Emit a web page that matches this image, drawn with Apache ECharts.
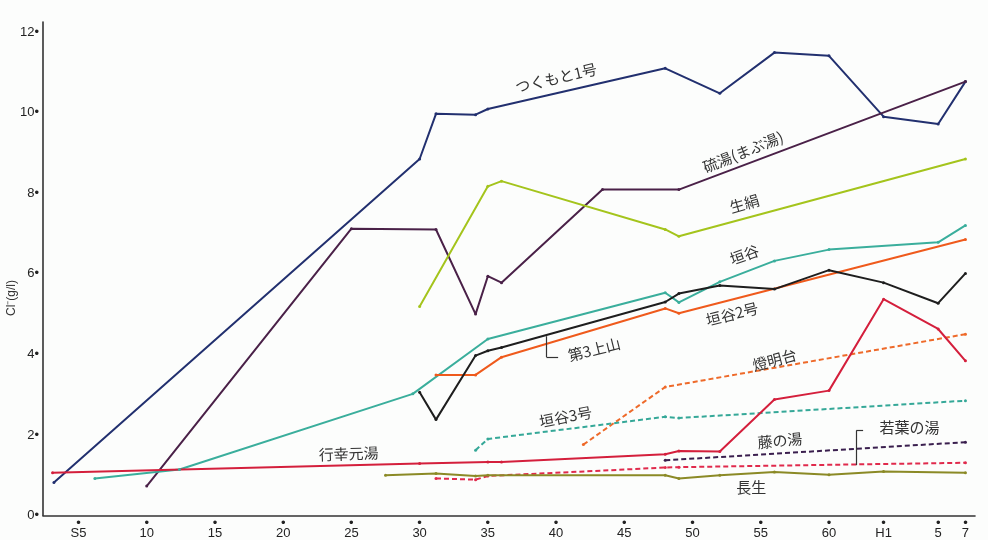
<!DOCTYPE html>
<html>
<head>
<meta charset="utf-8">
<script src="https://cdn.jsdelivr.net/npm/echarts@6/dist/echarts.min.js"></script>
<style>
  html, body { margin: 0; padding: 0; background: #fcfdfc; }
  #chart { width: 988px; height: 540px; }
</style>
</head>
<body>
<div id="chart"></div>
<script>
// Horizontal axis: year counted in Showa years (H1 = 64, H5 = 68, H7 = 70).
// Vertical axis: chloride ion concentration, g/l.
const tickYears  = [5, 10, 15, 20, 25, 30, 35, 40, 45, 50, 55, 60, 64, 68, 70];
const tickLabels = ['S5', '10', '15', '20', '25', '30', '35', '40', '45', '50', '55', '60', 'H1', '5', '7'];
const yTicks     = [0, 2, 4, 6, 8, 10, 12];

// [year, Cl- (g/l)] per spring
const tsukumoto1 = [[3.2, 0.82], [30, 8.85], [31.2, 9.97], [34.1, 9.95], [35, 10.09], [48, 11.1], [52, 10.48], [56, 11.49], [60, 11.41], [64, 9.9], [68, 9.72], [70, 10.77]];
const iouyu      = [[10, 0.73], [25, 7.12], [31.2, 7.1], [34.1, 5.0], [35, 5.94], [36, 5.78], [43.4, 8.09], [49, 8.09], [70, 10.77]];
const suzushi    = [[30, 5.19], [35, 8.17], [36, 8.3], [48, 7.1], [49, 6.93], [70, 8.85]];
const kakitani   = [[6.2, 0.92], [12.4, 1.14], [29.5, 3.02], [35, 4.38], [48, 5.53], [49, 5.29], [52, 5.8], [56, 6.32], [60, 6.6], [68, 6.78], [70, 7.2]];
const kakitani2  = [[31.2, 3.49], [34.1, 3.49], [36, 3.93], [48, 5.14], [49, 5.02], [70, 6.85]];
const dai3kamiyama = [[30, 3.06], [31.2, 2.38], [34.1, 3.97], [35, 4.09], [36, 4.17], [48, 5.3], [49, 5.51], [52, 5.71], [56, 5.62], [60, 6.09], [64, 5.78], [68, 5.27], [70, 6.01]];
const toumyoudai = [[42, 1.76], [48, 3.19], [70, 4.5]];
const kakitani3  = [[34.1, 1.62], [35, 1.9], [48, 2.45], [49, 2.42], [70, 2.85]];
const gyoukou    = [[3.1, 1.06], [30, 1.29], [35, 1.33], [36, 1.33], [48, 1.52], [49, 1.6], [52, 1.59], [56, 2.88], [60, 3.1], [64, 5.37], [68, 4.63], [70, 3.84]];
const fujinoyu   = [[48, 1.37], [70, 1.82]];
const wakabanoyu = [[31.2, 0.92], [34.1, 0.89], [35, 0.98], [48, 1.19], [49, 1.2], [70, 1.31]];
const chousei    = [[27.5, 1.0], [31.2, 1.04], [34.1, 0.98], [35, 1.0], [48, 1.0], [49, 0.92], [52, 1.0], [56, 1.08], [60, 1.01], [64, 1.09], [70, 1.06]];

const labelFont = '"Noto Sans CJK JP", "Noto Sans", sans-serif';
const tickFont = '"Liberation Sans", Arial, sans-serif';

// Series definitions: data, colour, dash and where the name is written
const lines = [
  { name: 'つくもと1号', data: tsukumoto1, color: '#22306f', dashed: false, at: [40.0, 10.86], rot: 13 },
  { name: '硫湯(まぶ湯)', data: iouyu, color: '#4a2148', dashed: false, at: [53.7, 9.02], rot: 22 },
  { name: '生絹', data: suzushi, color: '#a4c41c', dashed: false, at: [53.8, 7.74], rot: 16 },
  { name: '垣谷', data: kakitani, color: '#3aae9c', dashed: false, at: [53.8, 6.47], rot: 20 },
  { name: '垣谷2号', data: kakitani2, color: '#ef5a1c', dashed: false, at: [52.9, 5.0], rot: 14 },
  { name: '第3上山', data: dai3kamiyama, color: '#1e1e1e', dashed: false, at: [42.8, 4.12], rot: 14,
    leader: [[39.3, 4.45], [39.3, 3.93], [40.15, 3.93]] },
  { name: '燈明台', data: toumyoudai, color: '#ee6a2a', dashed: true, at: [56.0, 3.86], rot: 15 },
  { name: '垣谷3号', data: kakitani3, color: '#35a898', dashed: true, at: [40.7, 2.45], rot: 11 },
  { name: '行幸元湯', data: gyoukou, color: '#d41f3c', dashed: false, at: [24.8, 1.53], rot: 2 },
  { name: '藤の湯', data: fujinoyu, color: '#3a1f4e', dashed: true, at: [56.4, 1.86], rot: 5 },
  { name: '若葉の湯', data: wakabanoyu, color: '#e02a4c', dashed: true, at: [65.9, 2.2], rot: 0,
    leader: [[62.0, 1.25], [62.0, 2.11], [62.5, 2.11]] },
  { name: '長生', data: chousei, color: '#8b8a26', dashed: false, at: [54.3, 0.7], rot: 0 }
];

const series = lines.map(l => {
  const s = {
    name: l.name,
    type: 'line',
    data: l.data,
    symbol: 'circle',
    symbolSize: 3,
    showSymbol: true,
    color: l.color,
    lineStyle: { color: l.color, width: 2, type: l.dashed ? [5, 3] : 'solid' },
    itemStyle: { color: l.color },
    emphasis: { disabled: true },
    markPoint: {
      silent: true,
      symbol: 'circle',
      symbolSize: 0,
      data: [{
        coord: l.at,
        label: {
          show: true,
          position: 'inside',
          formatter: l.name,
          rotate: l.rot,
          color: '#333',
          fontSize: 15,
          fontFamily: labelFont
        }
      }]
    }
  };
  if (l.leader) {
    const segs = [];
    for (let i = 0; i < l.leader.length - 1; i++) {
      segs.push([{ coord: l.leader[i] }, { coord: l.leader[i + 1] }]);
    }
    s.markLine = {
      silent: true,
      symbol: 'none',
      label: { show: false },
      lineStyle: { color: '#333', width: 1.2, type: 'solid' },
      data: segs
    };
  }
  return s;
});

const chart = echarts.init(document.getElementById('chart'));
chart.setOption({
  animation: false,
  backgroundColor: '#fcfdfc',
  grid: { left: 43, right: 13, top: 22, bottom: 23 },
  xAxis: {
    type: 'value',
    min: 2.4,
    max: 70.7,
    axisLine: { show: true, onZero: false, lineStyle: { color: '#333', width: 1.6 } },
    axisTick: { show: false },
    splitLine: { show: false },
    axisLabel: {
      customValues: tickYears,
      margin: 3,
      color: '#222',
      fontSize: 13,
      lineHeight: 10,
      fontFamily: tickFont,
      formatter: v => '•\n' + tickLabels[tickYears.indexOf(v)]
    }
  },
  yAxis: {
    type: 'value',
    min: 0,
    max: 12.25,
    axisLine: { show: true, lineStyle: { color: '#333', width: 1.6 } },
    axisTick: { show: false },
    splitLine: { show: false },
    axisLabel: {
      customValues: yTicks,
      margin: 4,
      color: '#222',
      fontSize: 13,
      fontFamily: tickFont,
      formatter: v => v + '•'
    }
  },
  graphic: [{
    type: 'text',
    x: 12,
    y: 298,
    rotation: Math.PI / 2,
    style: {
      text: 'Cl⁻(g/l)',
      fill: '#333',
      font: '12px "Liberation Sans", Arial, sans-serif',
      textAlign: 'center',
      textVerticalAlign: 'middle'
    }
  }],
  series: series
});
</script>
</body>
</html>
